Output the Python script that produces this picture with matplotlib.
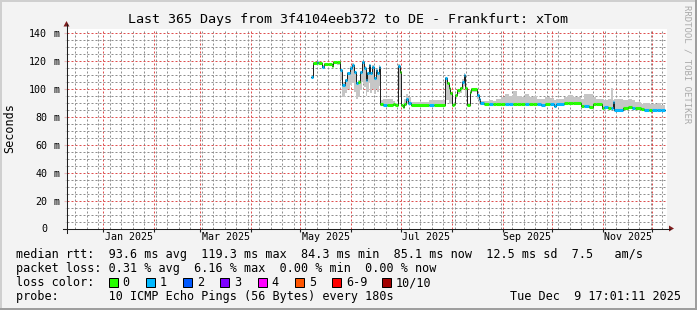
import datetime as dt
import matplotlib
matplotlib.use("Agg")
import matplotlib.pyplot as plt
import matplotlib.dates as mdates
from matplotlib.ticker import MultipleLocator
from matplotlib.lines import Line2D
from matplotlib.patches import Polygon, Rectangle

plt.rcParams["font.family"] = "DejaVu Sans Mono"

W, H = 697, 310

# start of each step, in days since 2024-12-09 00:00
days = [149.6, 150.8, 152.9, 154.0, 156.1, 157.3, 159.5, 162.2, 163.1, 165.5,
        166.9, 168.5, 170.3, 171.5, 173.1, 174.6, 175.6, 176.6, 177.8, 179.1,
        180.7, 181.7, 182.7, 183.6, 184.6, 185.6, 186.7, 187.6, 188.7, 189.7,
        190.7, 191.5, 193.5, 195.4, 199.4, 200.5, 202.2, 203.3, 204.2, 205.2,
        206.2, 207.1, 208.5, 210.0, 221.3, 224.3, 231.2, 232.4, 233.3, 234.3,
        235.3, 236.3, 237.3, 238.3, 240.3, 241.4, 242.4, 243.4, 244.4, 246.4,
        247.0, 250.6, 251.7, 252.5, 254.5, 257.5, 260.0, 262.0, 265.0, 267.5,
        270.0, 272.5, 274.5, 277.0, 279.5, 282.0, 284.5, 287.0, 289.5, 292.0,
        295.0, 297.2, 298.4, 303.3, 306.0, 309.0, 313.4, 315.5, 318.3, 320.7,
        323.0, 326.3, 327.4, 330.4, 332.0, 333.0, 334.0, 339.0, 342.0, 345.0,
        346.5, 350.0, 352.0, 355.0, 357.0, 360.0, 362.5]
last_day = 365.0

# median rtt in ms
median = [108.3, 118.8, 119.0, 118.5, 115.7, 117.6, 117.9, 116.4, 119.0, 119.3,
          113.3, 102.6, 106.0, 111.0, 114.7, 117.0, 112.0, 104.0, 105.0, 112.0,
          119.0, 114.7, 106.3, 111.0, 117.0, 111.0, 115.8, 107.5, 113.5, 111.0,
          115.8, 89.0, 88.5, 88.4, 89.5, 88.4, 116.5, 112.0, 88.4, 86.9,
          89.0, 92.5, 90.0, 88.4, 88.4, 88.4, 107.5, 104.0, 100.4, 97.0,
          88.4, 89.5, 95.6, 99.0, 100.4, 105.0, 110.0, 100.4, 88.4, 98.0,
          99.8, 95.6, 93.0, 89.6, 88.8, 88.8, 88.8, 89.5, 89.5, 89.5,
          89.5, 89.5, 89.5, 89.3, 89.3, 89.3, 89.3, 89.0, 88.5, 89.0,
          89.0, 87.5, 88.9, 89.6, 89.6, 89.6, 88.0, 88.0, 86.8, 88.9,
          88.9, 86.0, 86.8, 86.0, 86.0, 90.6, 85.2, 86.0, 86.8, 86.0,
          86.0, 85.4, 85.2, 85.2, 85.2, 85.1, 85.1]

# loss bucket (index into loss_colors)
loss = [1, 0, 1, 0, 1, 0, 0, 0, 0, 0,
        1, 1, 1, 1, 1, 1, 1, 1, 0, 1,
        1, 1, 1, 1, 1, 1, 1, 1, 1, 1,
        1, 0, 1, 0, 0, 0, 1, 0, 0, 0,
        0, 1, 1, 0, 1, 0, 1, 0, 0, 0,
        0, 0, 0, 0, 0, 1, 1, 0, 0, 0,
        0, 1, 1, 1, 0, 1, 0, 0, 0, 1,
        1, 0, 0, 0, 1, 0, 0, 1, 1, 0,
        1, 1, 1, 0, 0, 0, 0, 1, 0, 0,
        0, 0, 1, 0, 1, 1, 1, 0, 0, 1,
        0, 0, 1, 0, 1, 1, 1]

# smoke band (spread of the pings)
smoke_lo = [108.3, 118.0, 118.0, 117.5, 115.0, 117.0, 117.0, 115.5, 118.0, 117.0,
            106.0, 94.0, 97.0, 100.0, 103.0, 104.0, 98.0, 93.0, 94.0, 99.0,
            105.0, 101.0, 95.0, 98.0, 104.0, 97.0, 100.0, 96.0, 100.0, 98.0,
            102.0, 88.0, 88.0, 88.0, 88.5, 88.0, 100.0, 95.0, 87.5, 86.5,
            88.5, 89.0, 88.5, 88.0, 88.0, 88.0, 92.0, 92.0, 90.0, 89.0,
            88.0, 88.5, 93.0, 96.0, 97.0, 100.0, 102.0, 95.0, 88.0, 89.0,
            98.0, 93.0, 90.0, 88.5, 88.5, 88.5, 88.5, 89.0, 89.0, 89.0,
            89.0, 89.0, 89.0, 89.0, 89.0, 89.0, 89.0, 88.5, 88.0, 88.5,
            88.5, 87.0, 88.5, 89.0, 89.0, 89.0, 87.5, 87.5, 86.5, 88.5,
            88.5, 85.5, 86.5, 85.5, 85.5, 86.0, 85.0, 85.5, 86.5, 85.5,
            85.5, 85.0, 85.0, 85.0, 84.7, 84.7, 84.7]
smoke_hi = [108.3, 119.5, 119.5, 119.0, 117.0, 118.5, 118.5, 117.5, 119.5, 120.0,
            115.0, 104.0, 107.0, 112.0, 116.0, 118.5, 113.0, 105.0, 106.0, 113.0,
            120.0, 116.0, 107.5, 112.0, 118.0, 112.0, 117.0, 108.5, 114.5, 112.0,
            117.0, 92.0, 93.0, 92.5, 91.0, 90.0, 117.5, 113.0, 89.5, 88.5,
            93.0, 96.5, 94.0, 90.5, 91.8, 91.8, 108.5, 105.0, 101.0, 98.0,
            89.5, 90.5, 96.5, 100.0, 101.5, 107.0, 111.5, 102.0, 90.0, 99.0,
            100.5, 96.5, 94.0, 91.0, 91.0, 92.0, 91.5, 93.0, 94.5, 96.0,
            95.0, 98.5, 95.0, 94.5, 96.0, 94.5, 95.0, 93.0, 92.5, 94.0,
            93.5, 92.0, 93.0, 94.0, 95.5, 94.0, 93.0, 96.5, 96.0, 94.5,
            93.0, 93.0, 92.0, 93.0, 100.5, 92.0, 93.0, 92.0, 92.5, 91.8,
            90.5, 89.5, 90.0, 88.8, 89.0, 89.7, 88.5]

loss_labels = ["0", "1", "2", "3", "4", "5", "6-9", "10/10"]
loss_colors = ["#26ff00", "#00b8ff", "#0059ff", "#7e00ff", "#ff00ff",
               "#ff5500", "#ff0000", "#a10000"]

title = "Last 365 Days from 3f4104eeb372 to DE - Frankfurt: xTom"
line_rtt = "median rtt:  93.6 ms avg  119.3 ms max  84.3 ms min  85.1 ms now  12.5 ms sd  7.5   am/s"
line_loss = "packet loss: 0.31 % avg  6.16 % max  0.00 % min  0.00 % now"
line_probe = "probe:       10 ICMP Echo Pings (56 Bytes) every 180s"
stamp = "Tue Dec  9 17:01:11 2025"

start = dt.datetime(2024, 12, 9)
t0 = dt.datetime(2024, 12, 9, 17, 1, 11)
t1 = dt.datetime(2025, 12, 9, 17, 1, 11)

xs = mdates.date2num([start + dt.timedelta(days=d) for d in days + [last_day]])


def fpos(x, y):
    return x / W, 1 - y / H


fig = plt.figure(figsize=(W / 100, H / 100), dpi=100, facecolor="#f3f3f3")
ax = fig.add_axes([66.5 / W, (H - 228.5) / H, 600 / W, 200 / H])
ax.set_facecolor("white")
ax.set_xlim(mdates.date2num(t0), mdates.date2num(t1))
ax.set_ylim(0, 143.2)

# smoke
ax.fill_between(xs, smoke_lo + [smoke_lo[-1]], smoke_hi + [smoke_hi[-1]],
                step="post", color="#c6c6c6", linewidth=0, zorder=2)
# median line
ax.step(xs, median + [median[-1]], where="post", color="#202020",
        linewidth=0.72, zorder=3)
# loss coloured segments
ax.hlines(median, xs[:-1], xs[1:], colors=[loss_colors[l] for l in loss],
          linewidth=2.2, zorder=4, capstyle="butt")

# grid
ax.xaxis.set_major_locator(mdates.MonthLocator())
ax.xaxis.set_minor_locator(mdates.WeekdayLocator(byweekday=mdates.SU))
ax.yaxis.set_major_locator(MultipleLocator(20))
ax.yaxis.set_minor_locator(MultipleLocator(5))
ax.set_axisbelow(True)
mgrid = (0.87, 0.31, 0.31, 0.35)
grid = (0.56, 0.56, 0.56, 0.32)
ax.grid(which="minor", color=grid, linestyle=(0, (2, 2)), linewidth=0.72)
ax.grid(which="major", color=mgrid, linestyle=(0, (2, 2)), linewidth=0.72)
for s in ax.spines.values():
    s.set_visible(False)

yt = list(range(0, 141, 20))
ax.set_yticks(yt)
ax.set_yticklabels([str(v) for v in yt])
ax.tick_params(axis="y", which="major", length=2.2, color=mgrid, pad=11.7,
               labelsize=7.2)
ax.tick_params(axis="y", which="minor", length=1.4, color=grid)
ax.tick_params(axis="x", which="major", length=2.2, color="#1f1f1f",
               labelbottom=False)
ax.tick_params(axis="x", which="minor", length=0)
for v in yt[1:]:
    ax.text((53.5 - 66.5) / 600, v, "m", transform=ax.get_yaxis_transform(),
            ha="left", va="center_baseline", fontsize=7.2)

for m, name in [(1, "Jan"), (3, "Mar"), (5, "May"), (7, "Jul"), (9, "Sep"), (11, "Nov")]:
    a = mdates.date2num(dt.datetime(2025, m, 1))
    b = mdates.date2num(dt.datetime(2025, m + 1, 1))
    ax.text((a + b) / 2, -(237.5 - 228.5) / 200, name + " 2025",
            transform=ax.get_xaxis_transform(), ha="center", va="center",
            fontsize=7.2)

# axes with arrows
fig.add_artist(Line2D(*zip(fpos(66.5, 232.5), fpos(66.5, 24)),
                      color="#1f1f1f", linewidth=0.75))
fig.add_artist(Line2D(*zip(fpos(62.5, 228.5), fpos(670, 228.5)),
                      color="#1f1f1f", linewidth=0.75))
fig.add_artist(Polygon([fpos(63.5, 26.5), fpos(69.5, 26.5), fpos(66.5, 21)],
                       closed=True, transform=fig.transFigure,
                       facecolor="#7f1f1f", edgecolor="none"))
fig.add_artist(Polygon([fpos(669, 225.5), fpos(669, 231.5), fpos(674, 228.5)],
                       closed=True, transform=fig.transFigure,
                       facecolor="#7f1f1f", edgecolor="none"))

# border
fig.add_artist(Line2D([0, 1], [1 - 1 / H] * 2, color="#cfcfcf", linewidth=1.44))
fig.add_artist(Line2D([1 / W] * 2, [0, 1], color="#cfcfcf", linewidth=1.44))
fig.add_artist(Line2D([0, 1], [1 / H] * 2, color="#9e9e9e", linewidth=1.44))
fig.add_artist(Line2D([1 - 1 / W] * 2, [0, 1], color="#9e9e9e", linewidth=1.44))

# texts
fig.text(*fpos(347.5, 19), title, ha="center", va="center", fontsize=9.6)
fig.text(*fpos(10, 128.5), "Seconds", rotation=90, ha="center", va="center",
         fontsize=8.5)
fig.text(*fpos(686.5, 64), "RRDTOOL / TOBI OETIKER", rotation=270,
         ha="center", va="center", fontsize=6.5, color="#aaaaaa")

fig.text(*fpos(15.5, 254.5), line_rtt, ha="left", va="center", fontsize=8.5)
fig.text(*fpos(15.5, 268.5), line_loss, ha="left", va="center", fontsize=8.5)
fig.text(*fpos(15.5, 282.5), "loss color:", ha="left", va="center", fontsize=8.5)
fig.text(*fpos(15.5, 296.5), line_probe, ha="left", va="center", fontsize=8.5)
fig.text(*fpos(681, 296.5), stamp, ha="right", va="center", fontsize=8.5)

box_x = [108.5 + 37.3 * i for i in range(7)] + [382]
for bx, lab, col in zip(box_x, loss_labels, loss_colors):
    x0, y0 = fpos(bx, 287)
    fig.add_artist(Rectangle((x0, y0), 9 / W, 9 / H, transform=fig.transFigure,
                             facecolor=col, edgecolor="black", linewidth=0.72))
    fig.text(*fpos(bx + 14, 282.5), lab, ha="left", va="center", fontsize=8.5)

fig.savefig("out.png", dpi=100, facecolor=fig.get_facecolor())
